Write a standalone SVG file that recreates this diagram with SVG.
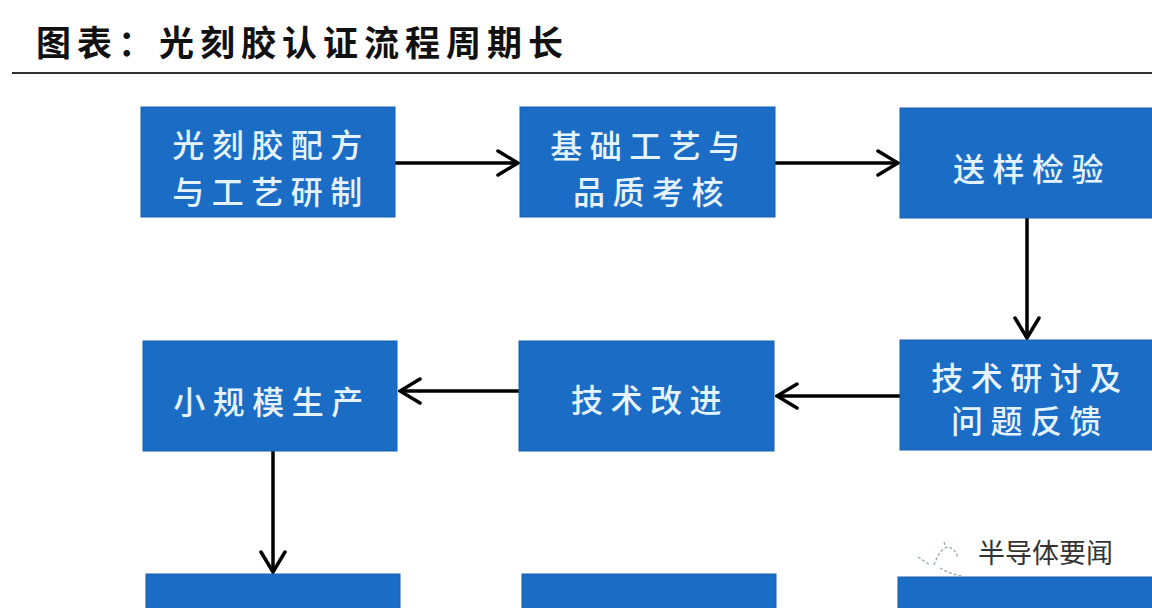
<svg xmlns="http://www.w3.org/2000/svg" width="1152" height="608" viewBox="0 0 1152 608">
  <style>
    .box { fill: #1a6cc4; stroke: #1560b0; stroke-width: 1; }
    .lbl { font-family: "Noto Sans CJK SC", "Noto Sans", sans-serif; font-size: 32px; font-weight: 500; fill: #e4f3ff; letter-spacing: 7.5px; text-anchor: middle; dominant-baseline: central; }
    .conn { stroke: #000; stroke-width: 3.5; fill: none; marker-end: url(#arr); }
    .title { font-family: "Noto Sans CJK SC", sans-serif; font-size: 35px; font-weight: bold; fill: #111; letter-spacing: 6px; }
    .wm { font-family: "Noto Sans CJK SC", sans-serif; font-size: 27px; fill: #333; }
  </style>
  <defs>
    <marker id="arr" markerUnits="userSpaceOnUse" viewBox="0 0 24 28" refX="22" refY="14" markerWidth="24" markerHeight="28" orient="auto">
      <path d="M2,2 L22,14 L2,26" fill="none" stroke="#000" stroke-width="3.5" stroke-linecap="round" stroke-linejoin="miter"/>
    </marker>
  </defs>
  <rect width="1152" height="608" fill="#ffffff"/>

  <g id="title">
    <text class="title" x="36" y="56">图表：光刻胶认证流程周期长</text>
    <line x1="12" y1="73" x2="1152" y2="73" stroke="#333" stroke-width="2"/>
  </g>

  <g id="connectors">
    <line class="conn" x1="395" y1="163" x2="518" y2="163"/>
    <line class="conn" x1="775" y1="163" x2="898" y2="163"/>
    <line class="conn" x1="1027" y1="218" x2="1027" y2="338"/>
    <line class="conn" x1="900" y1="396" x2="777" y2="396"/>
    <line class="conn" x1="519" y1="391" x2="400" y2="391"/>
    <line class="conn" x1="273" y1="451" x2="273" y2="572"/>
  </g>

  <g id="node1">
    <rect class="box" x="141" y="107" width="254" height="110"/>
    <text class="lbl" x="271" y="143">光刻胶配方</text>
    <text class="lbl" x="271" y="190">与工艺研制</text>
  </g>
  <g id="node2">
    <rect class="box" x="520" y="107" width="255" height="110"/>
    <text class="lbl" x="649" y="144">基础工艺与</text>
    <text class="lbl" x="652" y="190">品质考核</text>
  </g>
  <g id="node3">
    <rect class="box" x="900" y="108" width="260" height="110"/>
    <text class="lbl" x="1032" y="167">送样检验</text>
  </g>
  <g id="node4">
    <rect class="box" x="900" y="340" width="260" height="110"/>
    <text class="lbl" x="1030" y="376">技术研讨及</text>
    <text class="lbl" x="1030" y="419">问题反馈</text>
  </g>
  <g id="node5">
    <rect class="box" x="519" y="341" width="255" height="110"/>
    <text class="lbl" x="650" y="398">技术改进</text>
  </g>
  <g id="node6">
    <rect class="box" x="143" y="341" width="254" height="110"/>
    <text class="lbl" x="272" y="400">小规模生产</text>
  </g>
  <g id="node7">
    <rect class="box" x="146" y="574" width="254" height="40"/>
  </g>
  <g id="node8">
    <rect class="box" x="522" y="574" width="254" height="40"/>
  </g>
  <g id="node9">
    <rect class="box" x="898" y="577" width="262" height="40"/>
  </g>

  <g id="watermark">
    <path d="M918,557 L930,565 M934,565 Q940,548 948,547 Q956,549 958,558 M940,568 Q950,574 962,576 M944,542 L946,548" fill="none" stroke="#9aa" stroke-width="1.3" stroke-dasharray="3 2"/>
    <text class="wm" x="978" y="563">半导体要闻</text>
  </g>
</svg>
